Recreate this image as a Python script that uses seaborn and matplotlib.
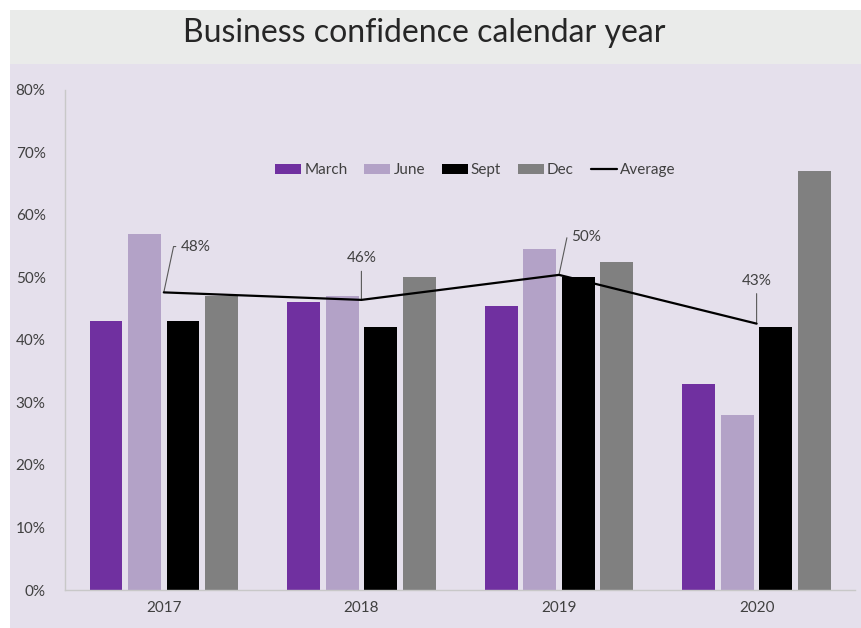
import numpy as np
import pandas as pd
import matplotlib
matplotlib.use("Agg")
import matplotlib.pyplot as plt
from matplotlib.patches import Rectangle, Patch
from matplotlib.lines import Line2D
import seaborn as sns

# ---- data ----
years = ["2017", "2018", "2019", "2020"]
quarters = ["March", "June", "Sept", "Dec"]
march = [43, 46, 45.5, 33]
june = [57, 47, 54.5, 28]
sept = [43, 42, 50, 42]
dec = [47, 50, 52.5, 67]
average = [47.6, 46.4, 50.4, 42.6]

colors = ["#7030a0", "#b3a2c7", "#000000", "#808080"]

df = pd.DataFrame({
    "year": years * 4,
    "quarter": np.repeat(quarters, len(years)),
    "value": march + june + sept + dec,
})

sns.set_theme(style="white")
plt.rcParams["font.family"] = ["Lato", "DejaVu Sans"]

fig = plt.figure(figsize=(8.61, 6.28), dpi=100, facecolor="white")

# background bands: title strip + lavender chart area
fig.patches.append(Rectangle((0.0116, 0.898), 0.99, 0.086, transform=fig.transFigure,
                             facecolor="#eaebea", edgecolor="none", zorder=-2))
fig.patches.append(Rectangle((0.0116, 0.0), 0.99, 0.898, transform=fig.transFigure,
                             facecolor="#e5e0ec", edgecolor="none", zorder=-2))

fig.text(0.493, 0.948, "Business confidence calendar year", ha="center", va="center",
         fontsize=23, color="#262626")

ax = fig.add_axes([0.0755, 0.0605, 0.918, 0.7965])
ax.set_facecolor("none")

sns.barplot(data=df, x="year", y="value", hue="quarter", hue_order=quarters,
            palette=colors, width=0.78, gap=0.15, saturation=1, linewidth=0,
            ax=ax, legend=False)

xpos = np.arange(len(years))
ax.plot(xpos, average, color="black", lw=1.6, zorder=5)

# leader-line labels for the average
offsets = [(12, 33, "left"), (0, 30, "center"), (9, 27, "left"), (0, 31, "center")]
for x, v, (dx, dy, ha) in zip(xpos, average, offsets):
    if ha == "left":
        arrow = dict(arrowstyle="-", color="#595959", lw=0.8, shrinkA=1, shrinkB=0,
                     relpos=(0, 0.5), connectionstyle="angle,angleA=180,angleB=78,rad=0")
    else:
        arrow = dict(arrowstyle="-", color="#595959", lw=0.8, shrinkA=2, shrinkB=0,
                     relpos=(0.5, 0))
    ax.annotate(f"{v:.0f}%", xy=(x, v), xytext=(dx, dy), textcoords="offset points",
                ha=ha, va="center", fontsize=11, color="#404040", arrowprops=arrow)

ax.set_ylim(0, 80)
ax.set_xlim(-0.5, 3.5)
ax.set_yticks(np.arange(0, 81, 10))
ax.set_yticklabels([f"{t}%" for t in range(0, 81, 10)])
ax.set_xlabel("")
ax.set_ylabel("")
ax.tick_params(axis="y", length=0, labelsize=11, labelcolor="#404040", pad=14)
ax.tick_params(axis="x", length=0, labelsize=11, labelcolor="#404040", pad=8)
for s in ["top", "right"]:
    ax.spines[s].set_visible(False)
for s in ["left", "bottom"]:
    ax.spines[s].set_color("#c8c8c8")
    ax.spines[s].set_linewidth(1)

handles = [Patch(facecolor=c, edgecolor="none") for c in colors]
handles.append(Line2D([0], [0], color="black", lw=1.6))
fig.legend(handles, quarters + ["Average"], loc="center", bbox_to_anchor=(0.552, 0.729),
           ncol=5, frameon=False, fontsize=11, handlelength=1.7, handleheight=0.6,
           handletextpad=0.2, columnspacing=1.1, labelcolor="#404040")

fig.savefig("out.png", dpi=100, facecolor="white")
